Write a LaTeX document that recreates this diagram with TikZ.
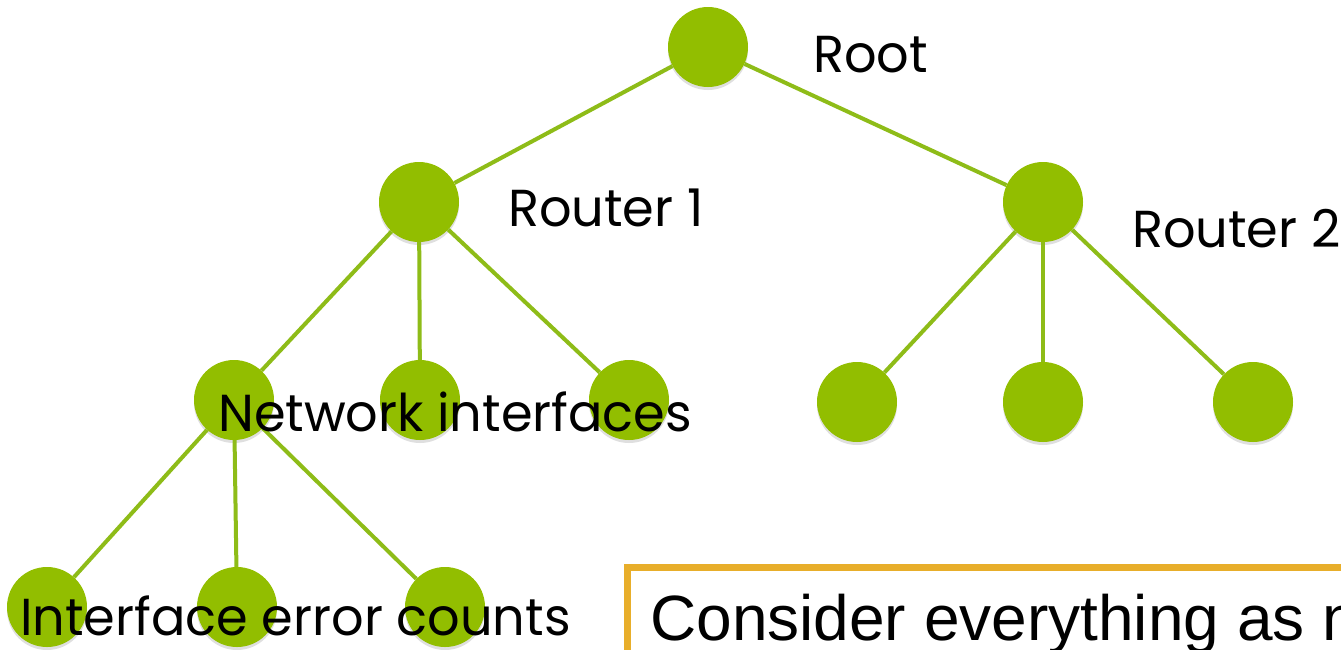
\documentclass[tikz,border=0pt]{standalone}
\usepackage{fontspec}
\setmainfont{Liberation Sans}
\newfontfamily\futura[FakeStretch=0.98]{Poppins}
\usetikzlibrary{shadows}
\definecolor{leaf}{RGB}{146,190,0}
\definecolor{twig}{RGB}{142,188,24}
\definecolor{gold}{RGB}{232,174,42}
\begin{document}
\begin{tikzpicture}[x=1pt,y=-1pt,
  tnode/.style={circle,fill=leaf,minimum size=80pt,inner sep=0pt,
    drop shadow={shadow xshift=0pt,shadow yshift=-3pt,opacity=0.25}},
  tedge/.style={draw=twig,line width=4pt},
  tlabel/.style={anchor=base west,inner sep=0pt,font=\futura\fontsize{52}{60}\selectfont,text=black}]
\useasboundingbox (0,0) rectangle (1341,649);
\fill[white] (0,0) rectangle (1341,649);
% nodes
\node[tnode] (root) at (708,47) {};
\node[tnode] (r1) at (419,202) {};
\node[tnode] (r2) at (1043,202) {};
\node[tnode] (a1) at (234,400) {};
\node[tnode] (a2) at (420,400) {};
\node[tnode] (a3) at (629,400) {};
\node[tnode] (b1) at (857,402) {};
\node[tnode] (b2) at (1043,402) {};
\node[tnode] (b3) at (1253,402) {};
\node[tnode] (c1) at (47,607) {};
\node[tnode] (c2) at (237,607) {};
\node[tnode] (c3) at (445,607) {};
% edges
\draw[tedge] (root) -- (r1);
\draw[tedge] (root) -- (r2);
\draw[tedge] (r1) -- (a1);
\draw[tedge] (r1) -- (a2);
\draw[tedge] (r1) -- (a3);
\draw[tedge] (r2) -- (b1);
\draw[tedge] (r2) -- (b2);
\draw[tedge] (r2) -- (b3);
\draw[tedge] (a1) -- (c1);
\draw[tedge] (a1) -- (c2);
\draw[tedge] (a1) -- (c3);
% labels
\node[tlabel] (lroot) at (813,72) {Root};
\node[tlabel] (lr1) at (508,226) {Router 1};
\node[tlabel] (lr2) at (1132,247) {Router 2};
\node[tlabel] (lnet) at (218,431) {Network interfaces};
\node[tlabel] (lerr) at (20,635) {Interface error counts};
% box
\draw[gold,line width=7pt] (627,567) rectangle (1400,720);
\node[anchor=base west,inner sep=0pt,font=\fontsize{64}{74}\selectfont] (note) at (650,640) {Consider everything as n};
\end{tikzpicture}
\end{document}
